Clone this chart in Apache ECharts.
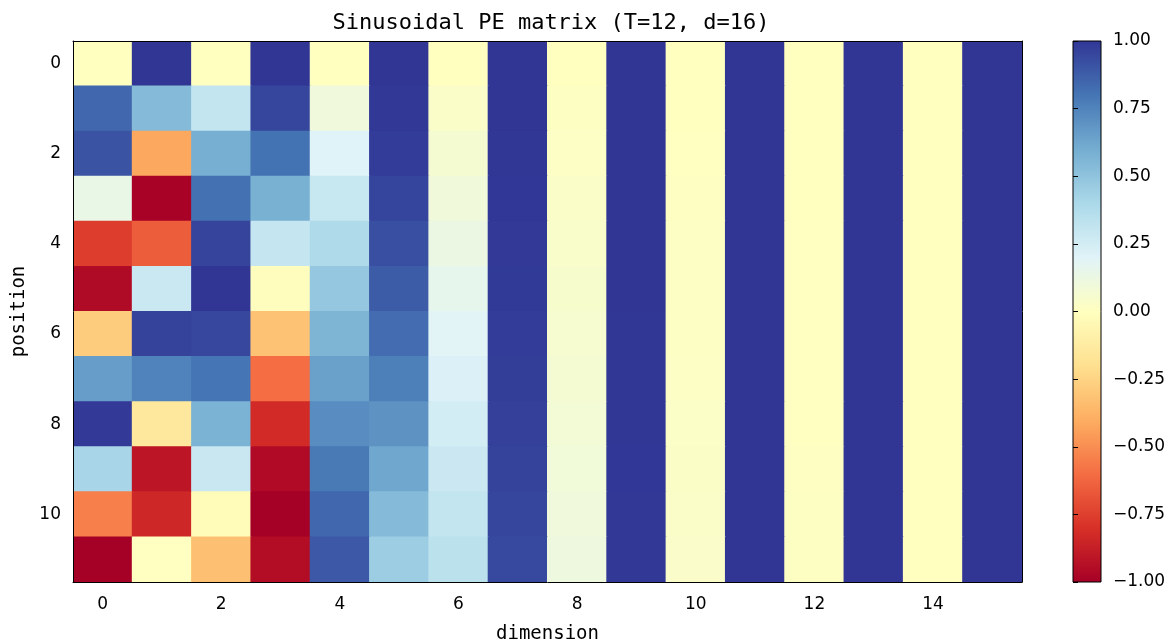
<!DOCTYPE html>
<html>
<head>
<meta charset="utf-8">
<script src="https://cdn.jsdelivr.net/npm/echarts@6/dist/echarts.min.js"></script>
<style>html,body{margin:0;padding:0;background:#fff;}#c{width:1176px;height:644px;}</style>
</head>
<body>
<div id="c"></div>
<script>
const dimensions = ['0','1','2','3','4','5','6','7','8','9','10','11','12','13','14','15'];
const positions = ['0','1','2','3','4','5','6','7','8','9','10','11'];
const peValues = [
  [0,1,0,1,0,1,0,1,0,1,0,1,0,1,0,1],
  [0.841,0.540,0.311,0.950,0.100,0.995,0.032,1.000,0.010,1.000,0.003,1.000,0.001,1.000,0.000,1.000],
  [0.909,-0.416,0.591,0.807,0.199,0.980,0.063,0.998,0.020,1.000,0.006,1.000,0.002,1.000,0.001,1.000],
  [0.141,-0.990,0.813,0.583,0.296,0.955,0.095,0.996,0.030,1.000,0.009,1.000,0.003,1.000,0.001,1.000],
  [-0.757,-0.654,0.954,0.301,0.389,0.921,0.126,0.992,0.040,0.999,0.013,1.000,0.004,1.000,0.001,1.000],
  [-0.959,0.284,1.000,-0.010,0.479,0.878,0.158,0.987,0.050,0.999,0.016,1.000,0.005,1.000,0.002,1.000],
  [-0.279,0.960,0.947,-0.321,0.565,0.825,0.189,0.982,0.060,0.998,0.019,1.000,0.006,1.000,0.002,1.000],
  [0.657,0.754,0.801,-0.599,0.644,0.765,0.220,0.976,0.070,0.998,0.022,1.000,0.007,1.000,0.002,1.000],
  [0.989,-0.146,0.574,-0.819,0.717,0.697,0.250,0.968,0.080,0.997,0.025,1.000,0.008,1.000,0.003,1.000],
  [0.412,-0.911,0.291,-0.957,0.783,0.622,0.281,0.960,0.090,0.996,0.028,1.000,0.009,1.000,0.003,1.000],
  [-0.544,-0.839,-0.021,-1.000,0.841,0.540,0.311,0.950,0.100,0.995,0.032,0.999,0.010,1.000,0.003,1.000],
  [-1.000,0.004,-0.331,-0.944,0.891,0.454,0.341,0.940,0.110,0.994,0.035,0.999,0.011,1.000,0.003,1.000]
];
const colorbarTicks = [-1,-0.75,-0.5,-0.25,0,0.25,0.5,0.75,1];
const rdylbu = ['#a50026','#d73027','#f46d43','#fdae61','#fee090','#ffffbf','#e0f3f8','#abd9e9','#74add1','#4575b4','#313695'];

const heatData = [];
peValues.forEach((row, p) => row.forEach((v, d) => heatData.push([d, p, v])));

const tickFont = {fontFamily: 'DejaVu Sans', fontSize: 17, color: '#000'};
const monoFont = {fontFamily: 'DejaVu Sans Mono', fontSize: 19, color: '#000'};
const everyOther = (i) => i % 2 === 0;

const chart = echarts.init(document.getElementById('c'), null, {renderer: 'canvas'});
chart.setOption({
  animation: false,
  backgroundColor: '#fff',
  title: {text: 'Sinusoidal PE matrix (T=12, d=16)', left: 546, top: 7, textAlign: 'center',
    textStyle: {fontFamily: 'DejaVu Sans Mono', fontSize: 22, color: '#000', fontWeight: 'normal'}},
  grid: [
    {left: 73, top: 41, width: 949, height: 541, show: false, containLabel: false, outerBoundsMode: 'none'},
    {left: 1073, top: 41, width: 28, height: 541, show: false, containLabel: false, outerBoundsMode: 'none'}
  ],
  xAxis: [
    {type: 'category', gridIndex: 0, data: dimensions, boundaryGap: true, z: 10,
     name: 'dimension', nameLocation: 'middle', nameGap: 43, nameTextStyle: monoFont,
     axisLine: {onZero: false, lineStyle: {color: '#000', width: 1}},
     axisTick: {alignWithLabel: true, interval: everyOther, length: 5, lineStyle: {color: '#000'}},
     axisLabel: Object.assign({interval: everyOther, margin: 14}, tickFont),
     splitLine: {show: false}},
    {type: 'category', gridIndex: 0, data: dimensions, position: 'top', show: true, z: 10,
     axisLine: {lineStyle: {color: '#000'}}, axisTick: {show: false}, axisLabel: {show: false}},
    {type: 'value', gridIndex: 1, min: 0, max: 1, show: false}
  ],
  yAxis: [
    {type: 'category', gridIndex: 0, data: positions, inverse: true, boundaryGap: true, z: 10,
     name: 'position', nameLocation: 'middle', nameGap: 43, nameRotate: 90, nameTextStyle: monoFont,
     axisLine: {onZero: false, lineStyle: {color: '#000', width: 1}},
     axisTick: {alignWithLabel: true, interval: everyOther, length: 5, lineStyle: {color: '#000'}},
     axisLabel: Object.assign({interval: everyOther, margin: 12}, tickFont),
     splitLine: {show: false}},
    {type: 'category', gridIndex: 0, data: positions, inverse: true, position: 'right', show: true, z: 10,
     axisLine: {lineStyle: {color: '#000'}}, axisTick: {show: false}, axisLabel: {show: false}},
    {type: 'value', gridIndex: 1, min: -1, max: 1, interval: 0.25, position: 'right', z: 10,
     axisLine: {show: false},
     axisTick: {show: true, length: 5, lineStyle: {color: '#000'}},
     axisLabel: Object.assign({margin: 12, formatter: (v) => v.toFixed(2).replace('-', '\u2212')}, tickFont),
     splitLine: {show: false}}
  ],
  visualMap: {show: false, seriesIndex: 0, dimension: 2, min: -1, max: 1, calculable: false, inRange: {color: rdylbu}},
  series: [
    {type: 'custom', xAxisIndex: 0, yAxisIndex: 0, data: heatData, z: 1, clip: true,
     encode: {x: 0, y: 1},
     renderItem: function (params, api) {
       const c = api.coord([api.value(0), api.value(1)]);
       const s = api.size([1, 1]);
       return {type: 'rect',
         shape: {x: c[0] - s[0] / 2 - 0.5, y: c[1] - s[1] / 2 - 0.5, width: s[0] + 1, height: s[1] + 1},
         style: {fill: api.visual('color'), stroke: null}};
     }},
    {type: 'custom', xAxisIndex: 2, yAxisIndex: 2, data: [[0, -1, 1]],
     renderItem: function (params, api) {
       const p1 = api.coord([0, 1]);
       const p2 = api.coord([1, -1]);
       const stops = rdylbu.slice().reverse().map((c, i) => ({offset: i / (rdylbu.length - 1), color: c}));
       return {type: 'rect', shape: {x: p1[0], y: p1[1], width: p2[0] - p1[0], height: p2[1] - p1[1]},
         style: {fill: new echarts.graphic.LinearGradient(0, 0, 0, 1, stops), stroke: '#000', lineWidth: 1}};
     }}
  ]
});
</script>
</body>
</html>
